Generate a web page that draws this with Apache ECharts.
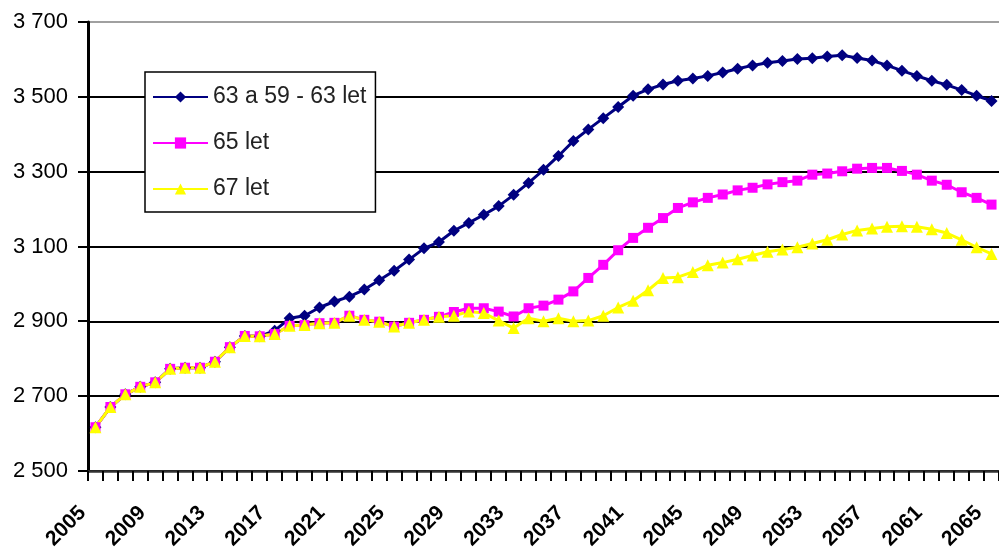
<!DOCTYPE html>
<html>
<head>
<meta charset="utf-8">
<script src="https://cdn.jsdelivr.net/npm/echarts@6/dist/echarts.min.js"></script>
<style>
html,body{margin:0;padding:0;background:#fff;}
#c{width:999px;height:555px;}
</style>
</head>
<body>
<div id="c"></div>
<script>
const years = ['2005','2006','2007','2008','2009','2010','2011','2012','2013','2014',
'2015','2016','2017','2018','2019','2020','2021','2022','2023','2024',
'2025','2026','2027','2028','2029','2030','2031','2032','2033','2034',
'2035','2036','2037','2038','2039','2040','2041','2042','2043','2044',
'2045','2046','2047','2048','2049','2050','2051','2052','2053','2054',
'2055','2056','2057','2058','2059','2060','2061','2062','2063','2064','2065'];

const seriesNames = ['63 a 59 - 63 let', '65 let', '67 let'];

const age63 = [2617,2671,2705,2725,2737,2773,2776,2776,2792,2831,
2861,2860,2875,2908,2915,2937,2953,2966,2985,3010,
3035,3065,3095,3112,3142,3163,3185,3208,3238,3270,
3305,3342,3382,3413,3443,3473,3503,3520,3533,3543,
3549,3556,3565,3575,3584,3591,3596,3601,3603,3608,
3611,3604,3597,3584,3570,3556,3543,3532,3518,3503,3489];

const age65 = [2617,2671,2705,2725,2737,2773,2776,2776,2792,2831,
2861,2860,2866,2888,2890,2895,2896,2915,2904,2899,
2886,2896,2904,2912,2925,2935,2935,2926,2913,2935,
2942,2958,2980,3016,3051,3090,3123,3150,3176,3203,
3218,3230,3239,3250,3257,3266,3272,3276,3292,3295,
3301,3308,3310,3310,3302,3292,3276,3265,3245,3230,3212];

const age67 = [2617,2671,2705,2725,2737,2773,2776,2776,2792,2831,
2861,2860,2866,2888,2890,2895,2896,2915,2904,2899,
2886,2896,2904,2912,2915,2926,2922,2902,2882,2908,
2900,2908,2900,2902,2915,2937,2955,2983,3016,3018,
3032,3050,3057,3066,3076,3086,3092,3098,3108,3118,
3132,3143,3148,3153,3154,3153,3146,3136,3118,3098,3080];

const yTickValues = [2500, 2700, 2900, 3100, 3300, 3500, 3700];
const yTickLabels = ['2 500', '2 700', '2 900', '3 100', '3 300', '3 500', '3 700'];

const FONT = 'Liberation Sans, Arial, sans-serif';
const chart = echarts.init(document.getElementById('c'));

function mkSeries(name, data, color, symbol, size, width) {
  return {
    name: name, type: 'line', data: data,
    symbol: symbol, symbolSize: size, showSymbol: true, showAllSymbol: true,
    lineStyle: {color: color, width: width},
    itemStyle: {color: color, borderWidth: 0},
    emphasis: {disabled: true},
    animation: false
  };
}

chart.setOption({
  animation: false,
  grid: {left: 88, top: 22, right: -6, bottom: 84},
  legend: {
    orient: 'vertical',
    left: 145, top: 72,
    padding: [13, 9, 11, 7],
    itemGap: 22,
    itemWidth: 55, itemHeight: 14,
    itemStyle: {borderWidth: 0},
    backgroundColor: '#fff',
    borderColor: '#000', borderWidth: 1.5,
    textStyle: {fontFamily: FONT, fontSize: 23, color: '#222', lineHeight: 24},
    data: seriesNames
  },
  xAxis: {
    type: 'category', data: years, boundaryGap: true,
    axisLine: {show: true, lineStyle: {color: '#333', width: 2.5}},
    axisTick: {show: false},
    axisLabel: {
      show: true, interval: 3, rotate: 45, margin: 26, padding: [0, 18, 0, 0],
      fontFamily: FONT, fontSize: 21, fontWeight: 'bold', color: '#000'
    },
    splitLine: {show: false}
  },
  yAxis: {
    type: 'value', min: 2500, max: 3700, interval: 200,
    axisLine: {show: true, lineStyle: {color: '#000', width: 3}},
    axisTick: {show: false},
    axisLabel: {
      margin: 20, fontFamily: FONT, fontSize: 22, color: '#000',
      formatter: function (v) { const i = yTickValues.indexOf(v); return i >= 0 ? yTickLabels[i] : String(v); }
    },
    splitLine: {show: true, lineStyle: {color: ['#000','#000','#000','#000','#000','#000','#a0a0a0'], width: 2}}
  },
  series: [
    mkSeries(seriesNames[0], age63, '#000080', 'diamond', 12, 3),
    mkSeries(seriesNames[1], age65, '#FF00FF', 'rect', 10, 3),
    mkSeries(seriesNames[2], age67, '#FFFF00', 'triangle', 12, 3)
  ]
});

// Axis tick marks, positioned through the chart's own scales
const c0 = chart.convertToPixel({xAxisIndex: 0}, 0);
const c1 = chart.convertToPixel({xAxisIndex: 0}, 1);
const band = c1 - c0;
const yBase = chart.convertToPixel({yAxisIndex: 0}, yTickValues[0]);
const xLeft = c0 - band / 2;
const ticks = [];
for (let i = 0; i <= years.length; i++) {
  const x = Math.round(xLeft + i * band);
  ticks.push({type: 'line', z: 10, silent: true,
    shape: {x1: x, y1: yBase, x2: x, y2: yBase + 10},
    style: {stroke: '#000', lineWidth: 2}});
}
yTickValues.forEach(function (v) {
  const y = Math.round(chart.convertToPixel({yAxisIndex: 0}, v));
  ticks.push({type: 'line', z: 10, silent: true,
    shape: {x1: xLeft - 10, y1: y, x2: xLeft, y2: y},
    style: {stroke: '#000', lineWidth: 2}});
});
chart.setOption({graphic: ticks});
</script>
</body>
</html>
